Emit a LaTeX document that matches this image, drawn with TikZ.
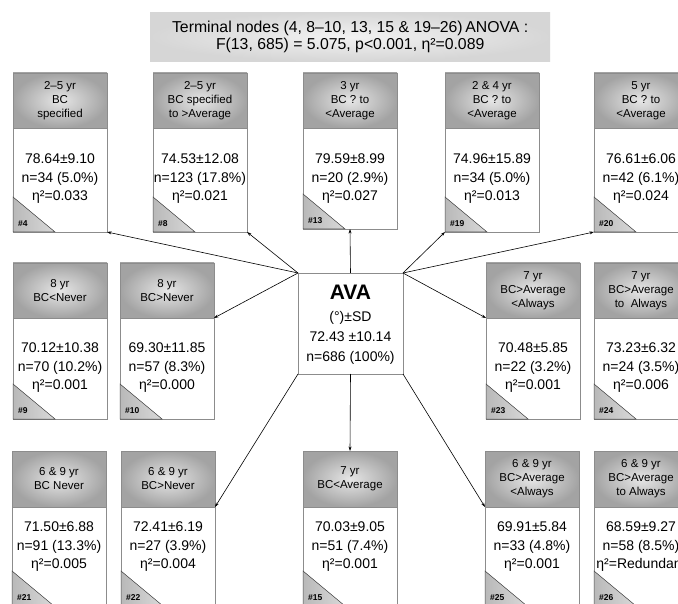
\documentclass[tikz,border=0pt]{standalone}
\usepackage{fontspec}
\setmainfont{Liberation Sans}
\usetikzlibrary{arrows.meta,calc}

\definecolor{edge}{HTML}{8C8C8C}
\definecolor{hdrout}{HTML}{A3A3A3}
\definecolor{hdrin}{HTML}{E6E6E6}

\tikzset{
  leaf/.style={draw=edge, line width=0.7pt, fill=white, anchor=north west,
    minimum width=94pt, inner sep=0pt, outer sep=0pt},
  hdr/.style={draw=edge, line width=0.7pt, inner color=hdrin, outer color=hdrout,
    anchor=north west, minimum width=94pt, align=center, inner sep=0pt, outer sep=0pt,
    font=\fontsize{11.5}{14}\selectfont},
  stat/.style={align=center, inner sep=0pt, font=\fontsize{14}{18.5}\selectfont},
  corner/.style={draw=gray!60!black, line width=0.5pt, left color=gray!55, right color=gray!30},
  tag/.style={anchor=west, inner sep=0pt, font=\fontsize{8.5}{10}\selectfont\bfseries},
  link/.style={-{Stealth[length=4.5pt,width=3pt]}, line width=0.6pt},
}

% name, x, y, header height, total height, header text, statistics, number, text offset
\newcommand\leafbox[9]{%
  \node[leaf, minimum height=#5pt] (#1) at (#2,#3) {};
  \node[hdr, minimum height=#4pt] (#1h) at (#1.north west) {#6};
  \filldraw[corner] (#1.south west) -- ++(0,-35) -- ++(42,35) -- cycle;
  \node[tag] (#1t) at ($(#1.south west)+(5,-8)$) {\##8};
  \node[stat] (#1s) at ($(#1h.south)+(0,#9)$) {#7};
}

\begin{document}
\begin{tikzpicture}[x=1pt, y=-1pt]
  \useasboundingbox (0,0) rectangle (678,604);
  \clip (0,0) rectangle (678,604);
  \fill[white] (0,0) rectangle (678,604);

  % heading
  \node[inner color=gray!10, outer color=gray!32, minimum width=400pt, minimum height=49pt,
    anchor=north west, inner sep=0pt, align=center,
    font=\fontsize{15.8}{16.5}\selectfont] (ttl) at (150,12)
    {Terminal nodes (4, 8--10, 13, 15 \& 19--26)\,ANOVA :\\F(13, 685) = 5.075, p<0.001, η²=0.089};

  % top row
  \leafbox{n4}{13}{73}{55}{159}{2--5 yr\\BC\\specified}{78.64±9.10\\n=34 (5.0\%)\\η²=0.033}{4}{51}
  \leafbox{n8}{153}{73}{55}{159}{2--5 yr\\BC specified\\to >Average}{74.53±12.08\\n=123 (17.8\%)\\η²=0.021}{8}{51}
  \leafbox{n13}{303}{73}{55}{156}{3 yr\\BC ? to\\<Average}{79.59±8.99\\n=20 (2.9\%)\\η²=0.027}{13}{51}
  \leafbox{n19}{445}{73}{55}{159}{2 \& 4 yr\\BC ? to\\<Average}{74.96±15.89\\n=34 (5.0\%)\\η²=0.013}{19}{51}
  \leafbox{n20}{594}{73}{55}{159}{5 yr\\BC ? to\\<Average}{76.61±6.06\\n=42 (6.1\%)\\η²=0.024}{20}{51}

  % middle row
  \leafbox{n9}{13}{263}{55}{156}{8 yr\\BC<Never}{70.12±10.38\\n=70 (10.2\%)\\η²=0.001}{9}{50}
  \leafbox{n10}{120}{263}{55}{156}{8 yr\\BC>Never}{69.30±11.85\\n=57 (8.3\%)\\η²=0.000}{10}{50}
  \leafbox{n23}{486}{263}{55}{156}{7 yr\\BC>Average\\<Always}{70.48±5.85\\n=22 (3.2\%)\\η²=0.001}{23}{50}
  \leafbox{n24}{594}{263}{55}{156}{7 yr\\BC>Average\\to\ \ Always}{73.23±6.32\\n=24 (3.5\%)\\η²=0.006}{24}{50}

  % bottom row
  \leafbox{n21}{12}{451}{56}{155}{6 \& 9 yr\\BC Never}{71.50±6.88\\n=91 (13.3\%)\\η²=0.005}{21}{40}
  \leafbox{n22}{121}{451}{56}{155}{6 \& 9 yr\\BC>Never}{72.41±6.19\\n=27 (3.9\%)\\η²=0.004}{22}{40}
  \leafbox{n15}{303}{451}{56}{155}{7 yr\\BC<Average}{70.03±9.05\\n=51 (7.4\%)\\η²=0.001}{15}{40}
  \leafbox{n25}{485}{451}{56}{155}{6 \& 9 yr\\BC>Average\\<Always}{69.91±5.84\\n=33 (4.8\%)\\η²=0.001}{25}{40}
  \leafbox{n26}{594}{451}{56}{155}{6 \& 9 yr\\BC>Average\\to Always}{68.59±9.27\\n=58 (8.5\%)\\η²=Redundant}{26}{40}

  % root node
  \node[draw=edge, line width=0.7pt, fill=white, anchor=north west, inner sep=0pt, outer sep=0pt,
    minimum width=105pt, minimum height=101pt] (ava) at (298,273) {};
  \node[inner sep=0pt, font=\fontsize{21}{24}\selectfont\bfseries] (avat) at ($(ava.north)+(0,19)$) {AVA};
  \node[stat, font=\fontsize{14}{20}\selectfont] (avas) at ($(ava.north)+(0,65)$)
    {(°)±SD\\72.43 ±10.14\\n=686 (100\%)};

  % connectors
  \draw[link] (ava.north west) -- (n4.south east);
  \draw[link] (ava.north west) -- (n8.south east);
  \draw[link] (ava.north) -- (n13.south);
  \draw[link] (ava.north east) -- (n19.south west);
  \draw[link] (ava.north east) -- (n20.south west);
  \draw[link] (ava.north west) -- (n10h.south east);
  \draw[link] (ava.north east) -- (n23h.south west);
  \draw[link] (ava.south west) -- (n22h.south east);
  \draw[link] (ava.south) -- (n15h.north);
  \draw[link] (ava.south east) -- (n25h.south west);
\end{tikzpicture}
\end{document}
